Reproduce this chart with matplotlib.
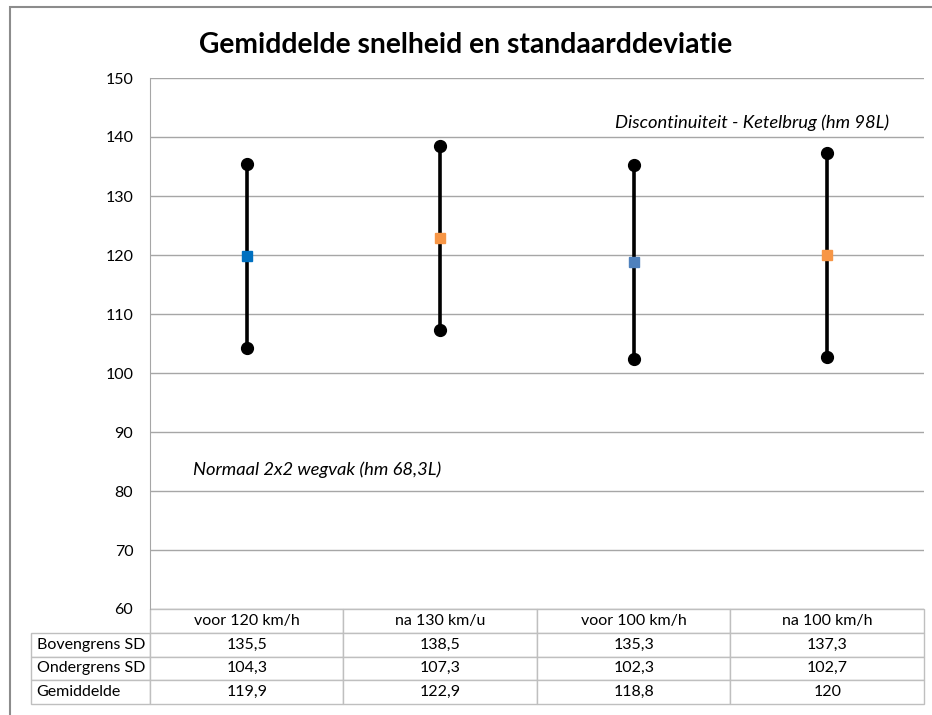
import matplotlib.pyplot as plt
from matplotlib.patches import Rectangle

plt.rcParams['font.family'] = ['Lato', 'DejaVu Sans']

categories = ["voor 120 km/h", "na 130 km/u", "voor 100 km/h", "na 100 km/h"]
upper = [135.5, 138.5, 135.3, 137.3]
lower = [104.3, 107.3, 102.3, 102.7]
mean = [119.9, 122.9, 118.8, 120]
mean_colors = ["#0070C0", "#F79646", "#4F81BD", "#F79646"]
row_labels = ["Bovengrens SD", "Ondergrens SD", "Gemiddelde"]


def fmt(v):
    s = ("%g" % v)
    return s.replace(".", ",")


W, H = 932, 715
fig = plt.figure(figsize=(W / 100, H / 100), dpi=100)
ax = fig.add_axes([150 / W, (H - 609) / H, 774 / W, 531 / H])

x = list(range(len(categories)))
for i in x:
    ax.plot([i, i], [lower[i], upper[i]], color="black", lw=2.6, zorder=3)
    ax.plot([i, i], [lower[i], upper[i]], "o", color="black", ms=8.5, zorder=4)
    ax.plot(i, mean[i], "s", color=mean_colors[i], ms=7, zorder=5)

ax.set_xlim(-0.5, len(categories) - 0.5)
ax.set_ylim(60, 150)
ax.set_yticks(range(60, 151, 10))
ax.set_xticks([])
ax.grid(axis="y", color="#A6A6A6", lw=1)
ax.set_axisbelow(True)
for s in ["top", "right", "bottom"]:
    ax.spines[s].set_visible(False)
ax.spines["left"].set_color("#A6A6A6")
ax.tick_params(axis="y", length=0, pad=12, labelsize=11.5)

ax.text(0.955, 0.915, "Discontinuiteit - Ketelbrug (hm 98L)", transform=ax.transAxes,
        ha="right", va="center", style="italic", fontsize=13.2)
ax.text(0.055, 0.262, "Normaal 2x2 wegvak (hm 68,3L)", transform=ax.transAxes,
        ha="left", va="center", style="italic", fontsize=13.2)

cell_text = [[fmt(v) for v in upper], [fmt(v) for v in lower], [fmt(v) for v in mean]]
rl_w = 115 / 774
tbl = ax.table(cellText=cell_text, rowLabels=row_labels, colLabels=categories,
               cellLoc="center", rowLoc="left",
               bbox=[0, -95 / 531, 1, 95 / 531])
tbl.auto_set_font_size(False)
tbl.set_fontsize(11.5)
for (r, c), cell in tbl.get_celld().items():
    cell.set_edgecolor("#BFBFBF")
    cell.set_linewidth(1)
    if c == -1:
        cell.set_width(rl_w)
        cell.PAD = 0.05
    else:
        cell.set_width(1 / 4)

fig.text(0.5, (H - 45) / H, "Gemiddelde snelheid en standaarddeviatie",
         ha="center", va="center", fontsize=20.3, fontweight="bold")

fig.patches.append(Rectangle((10 / W, -0.1), 1.2, (H - 7) / H + 0.1, transform=fig.transFigure,
                             fill=False, edgecolor="#8C8C8C", lw=1.5))

fig.savefig("out.png", dpi=100)
